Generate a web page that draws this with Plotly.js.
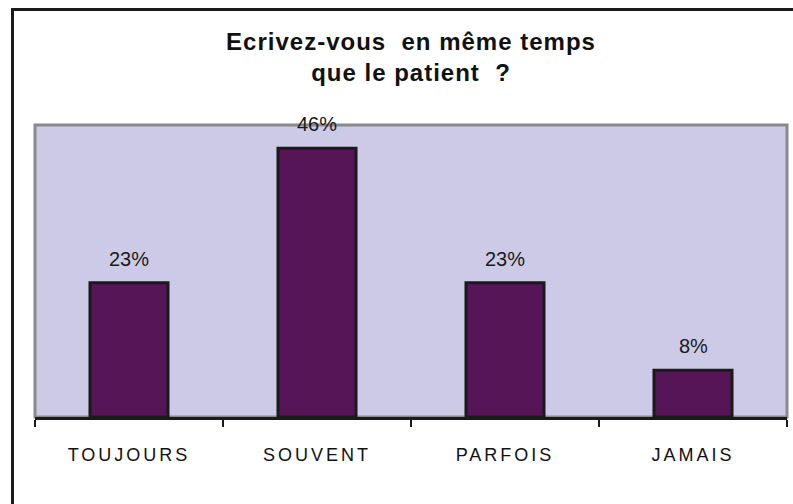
<!DOCTYPE html>
<html>
<head>
<meta charset="utf-8">
<script src="https://cdn.plot.ly/plotly-3.0.1.min.js"></script>
<style>
html,body{margin:0;padding:0;background:#fff;overflow:hidden;}
#wrap{position:relative;width:793px;height:504px;}
#chart{width:793px;height:504px;}
#frameTop{position:absolute;left:11px;top:8px;width:790px;height:3px;background:#1a1a1a;z-index:10;pointer-events:none;}
#frameLeft{position:absolute;left:11px;top:8px;width:3px;height:500px;background:#1a1a1a;z-index:10;pointer-events:none;}
.xtick text{letter-spacing:3px;}
.gtitle{letter-spacing:1px;}
</style>
</head>
<body>
<div id="wrap">
<div id="chart"></div>
<div id="frameTop"></div>
<div id="frameLeft"></div>
</div>
<script>
const categories = ["TOUJOURS", "SOUVENT", "PARFOIS", "JAMAIS"];
const values = [23, 46, 23, 8];
const valueLabels = ["23%", "46%", "23%", "8%"];
const titleText = "Ecrivez-vous  en même temps<br>que le patient  ?";

const L = 35, R = 6, T = 125, B = 87;

const trace = {
  type: "bar",
  x: categories,
  y: values,
  marker: {color: "#561557", line: {color: "#1a1a1a", width: 3}},
  hoverinfo: "skip"
};

const annotations = categories.map((c, i) => ({
  x: c, y: values[i], xref: "x", yref: "y",
  text: valueLabels[i], showarrow: false,
  yanchor: "bottom", yshift: 11,
  font: {family: "Liberation Sans, Arial, sans-serif", size: 20, color: "#1a1a1a"}
}));

const layout = {
  width: 793, height: 504,
  margin: {l: L, r: R, t: T, b: B, pad: 0},
  paper_bgcolor: "#ffffff",
  plot_bgcolor: "#CCCAE6",
  showlegend: false,
  bargap: 0.585,
  title: {
    text: titleText,
    x: 0.5, xref: "paper", xanchor: "center",
    y: 1 - 50 / 504, yref: "container", yanchor: "middle",
    font: {family: "Liberation Sans, Arial, sans-serif", size: 24, color: "#111", weight: "bold"}
  },
  xaxis: {
    showline: true, linecolor: "#1a1a1a", linewidth: 3,
    ticks: "outside", tickson: "boundaries", ticklen: 7, tickwidth: 2, tickcolor: "#1a1a1a",
    ticklabelstandoff: 19,
    tickfont: {family: "Liberation Sans, Arial, sans-serif", size: 18, color: "#111"},
    showgrid: false, zeroline: false, fixedrange: true
  },
  yaxis: {
    range: [0, 50], showticklabels: false, ticks: "", showgrid: false, zeroline: false,
    showline: false, fixedrange: true
  },
  shapes: [
    {type: "rect", xref: "paper", yref: "paper", x0: 0, x1: 1, y0: 0, y1: 1,
     line: {color: "#8a8a8a", width: 3}, fillcolor: "rgba(0,0,0,0)", layer: "below"}
  ],
  annotations: annotations
};

Plotly.newPlot("chart", [trace], layout, {displayModeBar: false, staticPlot: true});
</script>
</body>
</html>
